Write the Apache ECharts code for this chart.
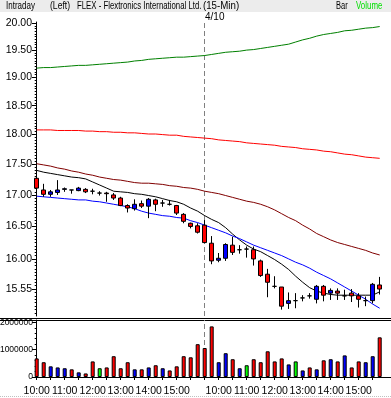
<!DOCTYPE html>
<html><head><meta charset="utf-8">
<script src="https://cdn.jsdelivr.net/npm/echarts@6/dist/echarts.min.js"></script>
<style>html,body{margin:0;padding:0;background:#fff}#c{width:391px;height:398px}</style>
</head><body><div id="c"></div>
<script>
// ---- categories (15-minute bars) ----
const times = [
 '04/09 10:00','04/09 10:15','04/09 10:30','04/09 10:45','04/09 11:00','04/09 11:15','04/09 11:30','04/09 11:45',
 '04/09 12:00','04/09 12:15','04/09 12:30','04/09 12:45','04/09 13:00','04/09 13:15','04/09 13:30','04/09 13:45',
 '04/09 14:00','04/09 14:15','04/09 14:30','04/09 14:45','04/09 15:00','04/09 15:15','04/09 15:30','04/09 15:45',
 '04/10 09:30','04/10 09:45','04/10 10:00','04/10 10:15','04/10 10:30','04/10 10:45','04/10 11:00','04/10 11:15',
 '04/10 11:30','04/10 11:45','04/10 12:00','04/10 12:15','04/10 12:30','04/10 12:45','04/10 13:00','04/10 13:15',
 '04/10 13:30','04/10 13:45','04/10 14:00','04/10 14:15','04/10 14:30','04/10 14:45','04/10 15:00','04/10 15:15',
 '04/10 15:30','04/10 15:45'];
const dayBreakLabel = '4/10';

// ---- price bars ----
const opens = [17.27,17.08,17.01,17.04,17.09,17.08,17.07,17.09,17.06,17.03,
 17.03,17.00,16.95,16.83,16.78,16.86,16.82,16.92,16.87,16.85,
 16.83,16.69,16.55,16.51,16.52,16.24,15.98,16.01,16.21,16.14,
 16.15,16.14,15.97,15.77,15.59,15.58,15.34,15.38,15.42,15.45,
 15.40,15.59,15.49,15.52,15.45,15.49,15.45,15.38,15.38,15.61];
const highs = [17.35,17.18,17.08,17.24,17.12,17.08,17.13,17.11,17.10,17.06,
 17.05,17.03,16.97,16.85,16.93,16.91,16.95,16.94,16.92,16.92,
 16.84,16.71,16.56,16.55,16.60,16.35,16.09,16.24,16.34,16.21,
 16.19,16.19,15.99,15.85,15.74,15.58,15.50,15.49,15.46,15.49,
 15.61,15.61,15.56,15.56,15.54,15.55,15.49,15.44,15.64,15.73];
const lows = [17.04,16.97,16.97,17.00,17.05,17.02,17.06,17.03,17.01,16.99,
 16.89,16.92,16.82,16.72,16.75,16.79,16.63,16.74,16.81,16.83,
 16.68,16.55,16.47,16.39,16.24,15.92,15.95,15.97,16.06,16.08,
 16.02,15.90,15.73,15.43,15.56,15.25,15.26,15.27,15.37,15.41,
 15.34,15.37,15.39,15.39,15.39,15.36,15.28,15.30,15.34,15.47];
const closes = [17.11,17.01,17.05,17.08,17.10,17.08,17.11,17.05,17.06,17.03,
 17.02,16.95,16.83,16.79,16.85,16.82,16.93,16.85,16.87,16.85,
 16.71,16.58,16.50,16.41,16.25,15.97,16.01,16.22,16.10,16.14,
 16.15,16.00,15.75,15.65,15.59,15.30,15.38,15.38,15.42,15.45,
 15.59,15.46,15.53,15.49,15.45,15.45,15.40,15.38,15.62,15.55];

// ---- moving averages ----
const maGreen = [19.17,19.18,19.18,19.19,19.20,19.21,19.22,19.22,19.23,19.24,
 19.25,19.26,19.27,19.28,19.30,19.31,19.33,19.34,19.35,19.36,
 19.37,19.37,19.38,19.39,19.40,19.42,19.44,19.46,19.47,19.48,
 19.50,19.51,19.53,19.55,19.57,19.59,19.61,19.65,19.69,19.72,
 19.76,19.79,19.81,19.83,19.86,19.87,19.89,19.91,19.92,19.94];
const maRed = [18.08,18.08,18.08,18.07,18.07,18.07,18.07,18.06,18.06,18.05,
 18.05,18.04,18.04,18.03,18.03,18.02,18.01,18.01,18.00,17.99,
 17.99,17.97,17.96,17.95,17.94,17.93,17.91,17.90,17.89,17.88,
 17.86,17.85,17.84,17.83,17.82,17.80,17.79,17.78,17.76,17.75,
 17.74,17.72,17.71,17.69,17.67,17.66,17.64,17.62,17.61,17.60];
const maDarkRed = [17.51,17.49,17.47,17.44,17.42,17.39,17.37,17.34,17.32,17.29,
 17.27,17.25,17.24,17.22,17.20,17.19,17.19,17.18,17.17,17.15,
 17.14,17.12,17.11,17.09,17.06,17.04,17.02,16.99,16.96,16.93,
 16.90,16.88,16.85,16.81,16.76,16.70,16.64,16.59,16.52,16.46,
 16.39,16.34,16.29,16.25,16.22,16.19,16.16,16.13,16.09,16.06];
const maBlack = [17.40,17.37,17.35,17.33,17.31,17.29,17.28,17.26,17.21,17.16,
 17.11,17.06,17.05,17.04,17.02,17.01,16.99,16.97,16.94,16.91,
 16.89,16.85,16.79,16.74,16.67,16.61,16.56,16.48,16.38,16.29,
 16.21,16.15,16.11,16.05,15.99,15.92,15.84,15.74,15.65,15.57,
 15.52,15.49,15.47,15.46,15.46,15.46,15.46,15.46,15.46,15.51];
const maBlue = [16.98,16.97,16.96,16.95,16.94,16.93,16.92,16.92,16.90,16.89,
 16.87,16.85,16.83,16.81,16.78,16.74,16.71,16.69,16.67,16.66,
 16.64,16.63,16.59,16.56,16.52,16.48,16.44,16.40,16.35,16.31,
 16.26,16.21,16.17,16.13,16.09,16.05,16.00,15.95,15.91,15.86,
 15.80,15.75,15.70,15.64,15.58,15.52,15.46,15.40,15.33,15.27];

// ---- volume ----
const volumes = [680000,540000,390000,350000,320000,280000,170000,130000,570000,320000,
 350000,760000,320000,540000,280000,280000,350000,430000,320000,240000,
 390000,760000,720000,1200000,1060000,1850000,540000,870000,650000,320000,
 430000,650000,540000,940000,570000,680000,460000,570000,240000,350000,
 280000,610000,650000,570000,790000,350000,570000,540000,760000,1450000];
const volumeColors = ['r','r','b','b','b','r','b','r','r','g',
 'r','r','r','r','b','r','b','r','b','r',
 'r','r','r','r','r','r','b','b','r','b',
 'g','r','r','r','r','r','b','g','b','r',
 'b','r','b','r','b','r','r','b','b','r'];

// ---- tick labels ----
const priceTickLabels = [20.00,19.50,19.00,18.50,18.00,17.50,17.00,16.50,16.00,15.55];
const volumeTickLabels = [0,1000000,2000000];

// ---------------------------------------------------------------
const colorMap = {r:'#ff0000', b:'#0000ff', g:'#00ff00'};
const L = Math.log;
const priceMinorTicks = [];
for (let k = 304; k <= 400; k++) priceMinorTicks.push(L(k * 0.05));
const volMinorTicks = [];
for (let k = 0; k <= 10; k++) volMinorTicks.push(k * 200000);
const hourIdx = times.map((t,i)=>t.endsWith(':00') ? i : -1).filter(i=>i>=0);
const evenIdx = times.map((t,i)=>i%2===0 ? i : -1).filter(i=>i>=0);
const breakIdx = times.findIndex(t=>t.startsWith('04/10'));

const X_MIN = -0.243, X_MAX = 50.614;
const P_MIN = L(15.158), P_MAX = L(20.026);
const V_MAX = 2084000;
const FONT = '"Liberation Sans", Arial, sans-serif';

const chart = echarts.init(document.getElementById('c'), null, {renderer:'canvas'});
const lineSeries = (data, color, z) => ({
  type:'line', xAxisIndex:0, yAxisIndex:0, showSymbol:false, silent:true, z:z||2,
  data:data.map((p,i)=>[i, L(p)]), lineStyle:{color, width:1}, animation:false
});
const titleText = (x, text, sx, fill, size) => ({
  type:'text', x:x, y:6.5, scaleX:sx, silent:true,
  style:{x:0, y:0, text, fill:fill||'#000', font:(size||10)+'px '+FONT, textVerticalAlign:'middle'}
});

chart.setOption({
  animation:false,
  backgroundColor:'#ffffff',
  grid:[
    {left:35, width:356, top:22, height:294, outerBoundsMode:'none', containLabel:false},
    {left:35, width:356, top:320, height:57, outerBoundsMode:'none', containLabel:false}
  ],
  xAxis:[
    {type:'value', gridIndex:0, min:X_MIN, max:X_MAX, show:false},
    {type:'value', gridIndex:1, min:X_MIN, max:X_MAX, position:'bottom',
      axisLine:{show:true, onZero:false, lineStyle:{color:'#000', width:1}},
      axisTick:{show:true, length:3, customValues:evenIdx, lineStyle:{color:'#000'}},
      axisLabel:{show:true, customValues:hourIdx, margin:9, fontSize:10.5, fontFamily:FONT, color:'#000',
        hideOverlap:false, showMinLabel:true, showMaxLabel:true,
        formatter:v=>times[Math.round(v)].slice(6)},
      splitLine:{show:false}}
  ],
  yAxis:[
    {type:'value', gridIndex:0, position:'left', min:P_MIN, max:P_MAX,
      axisLine:{show:true, lineStyle:{color:'#000'}},
      axisTick:{show:true, length:2, customValues:priceMinorTicks, lineStyle:{color:'#000'}},
      axisLabel:{show:false}, splitLine:{show:false}},
    {type:'value', gridIndex:0, position:'left', min:P_MIN, max:P_MAX,
      axisLine:{show:false},
      axisTick:{show:true, length:3, customValues:priceTickLabels.map(L), lineStyle:{color:'#000'}},
      axisLabel:{show:true, customValues:priceTickLabels.map(L), margin:3, fontSize:10.5, fontFamily:FONT, color:'#000',
        showMinLabel:true, showMaxLabel:true,
        formatter:v=>Math.exp(v).toFixed(2)},
      splitLine:{show:false}},
    {type:'value', gridIndex:1, position:'left', min:0, max:V_MAX,
      axisLine:{show:true, lineStyle:{color:'#000'}},
      axisTick:{show:true, length:2, customValues:volMinorTicks, lineStyle:{color:'#000'}},
      axisLabel:{show:false}, splitLine:{show:false}},
    {type:'value', gridIndex:1, position:'left', min:0, max:V_MAX,
      axisLine:{show:false},
      axisTick:{show:true, length:3, customValues:volumeTickLabels, lineStyle:{color:'#000'}},
      axisLabel:{show:true, customValues:volumeTickLabels, margin:2, fontSize:8.5, fontFamily:FONT, color:'#000',
        showMinLabel:true, showMaxLabel:true,
        formatter:v=>String(Math.round(v))},
      splitLine:{show:false}}
  ],
  series:[
    Object.assign(lineSeries(maGreen, '#008000', 2), {
      markLine:{silent:true, symbol:'none', z:1, animation:false,
        label:{show:false},
        lineStyle:{color:'#808080', type:[5,3], width:1},
        data:[{xAxis:breakIdx}]}
    }),
    lineSeries(maRed, '#ff0000'),
    lineSeries(maDarkRed, '#800000'),
    lineSeries(maBlack, '#000000'),
    lineSeries(maBlue, '#0000ff'),
    {
      type:'candlestick', xAxisIndex:0, yAxisIndex:0, z:10, silent:true, barWidth:4,
      encode:{x:0, y:[1,2,3,4]},
      data:opens.map((o,i)=>[i, L(o), L(closes[i]), L(lows[i]), L(highs[i])]),
      itemStyle:{color:'#0000ff', color0:'#ff0000', borderColor:'#000000', borderColor0:'#000000',
        borderColorDoji:'#000000', borderWidth:1}
    },
    {
      type:'bar', xAxisIndex:1, yAxisIndex:2, z:10, silent:true, barWidth:4,
      data:volumes.map((v,i)=>({value:[i, v], itemStyle:{color:colorMap[volumeColors[i]], borderColor:'#000', borderWidth:1}})),
      markLine:{silent:true, symbol:'none', z:1, animation:false, label:{show:false},
        lineStyle:{color:'#808080', type:[5,3], width:1},
        data:[{xAxis:breakIdx}]}
    }
  ],
  graphic:[
    {type:'rect', z:-1, silent:true, shape:{x:0, y:0, width:391, height:12}, style:{fill:'#ececec'}},
    {type:'line', silent:true, shape:{x1:0, y1:318.5, x2:391, y2:318.5}, style:{stroke:'#000', lineWidth:1}},
    {type:'line', silent:true, shape:{x1:0, y1:320.5, x2:391, y2:320.5}, style:{stroke:'#000', lineWidth:1}},
    {type:'line', silent:true, shape:{x1:0, y1:396.5, x2:391, y2:396.5}, style:{stroke:'#c0c0c0', lineWidth:1, lineDash:[1,1]}},
    titleText(6, 'Intraday', 0.8),
    titleText(50, '(Left)', 0.86),
    titleText(77, 'FLEX - Flextronics International Ltd.', 0.78),
    titleText(203, '(15-Min)', 0.97),
    titleText(336, 'Bar', 0.75),
    titleText(356, 'Volume', 0.79, '#00e000'),
    {type:'text', x:205, y:17, silent:true,
      style:{x:0, y:0, text:dayBreakLabel, fill:'#000', font:'10px '+FONT, textVerticalAlign:'middle'}}
  ]
});
</script></body></html>
